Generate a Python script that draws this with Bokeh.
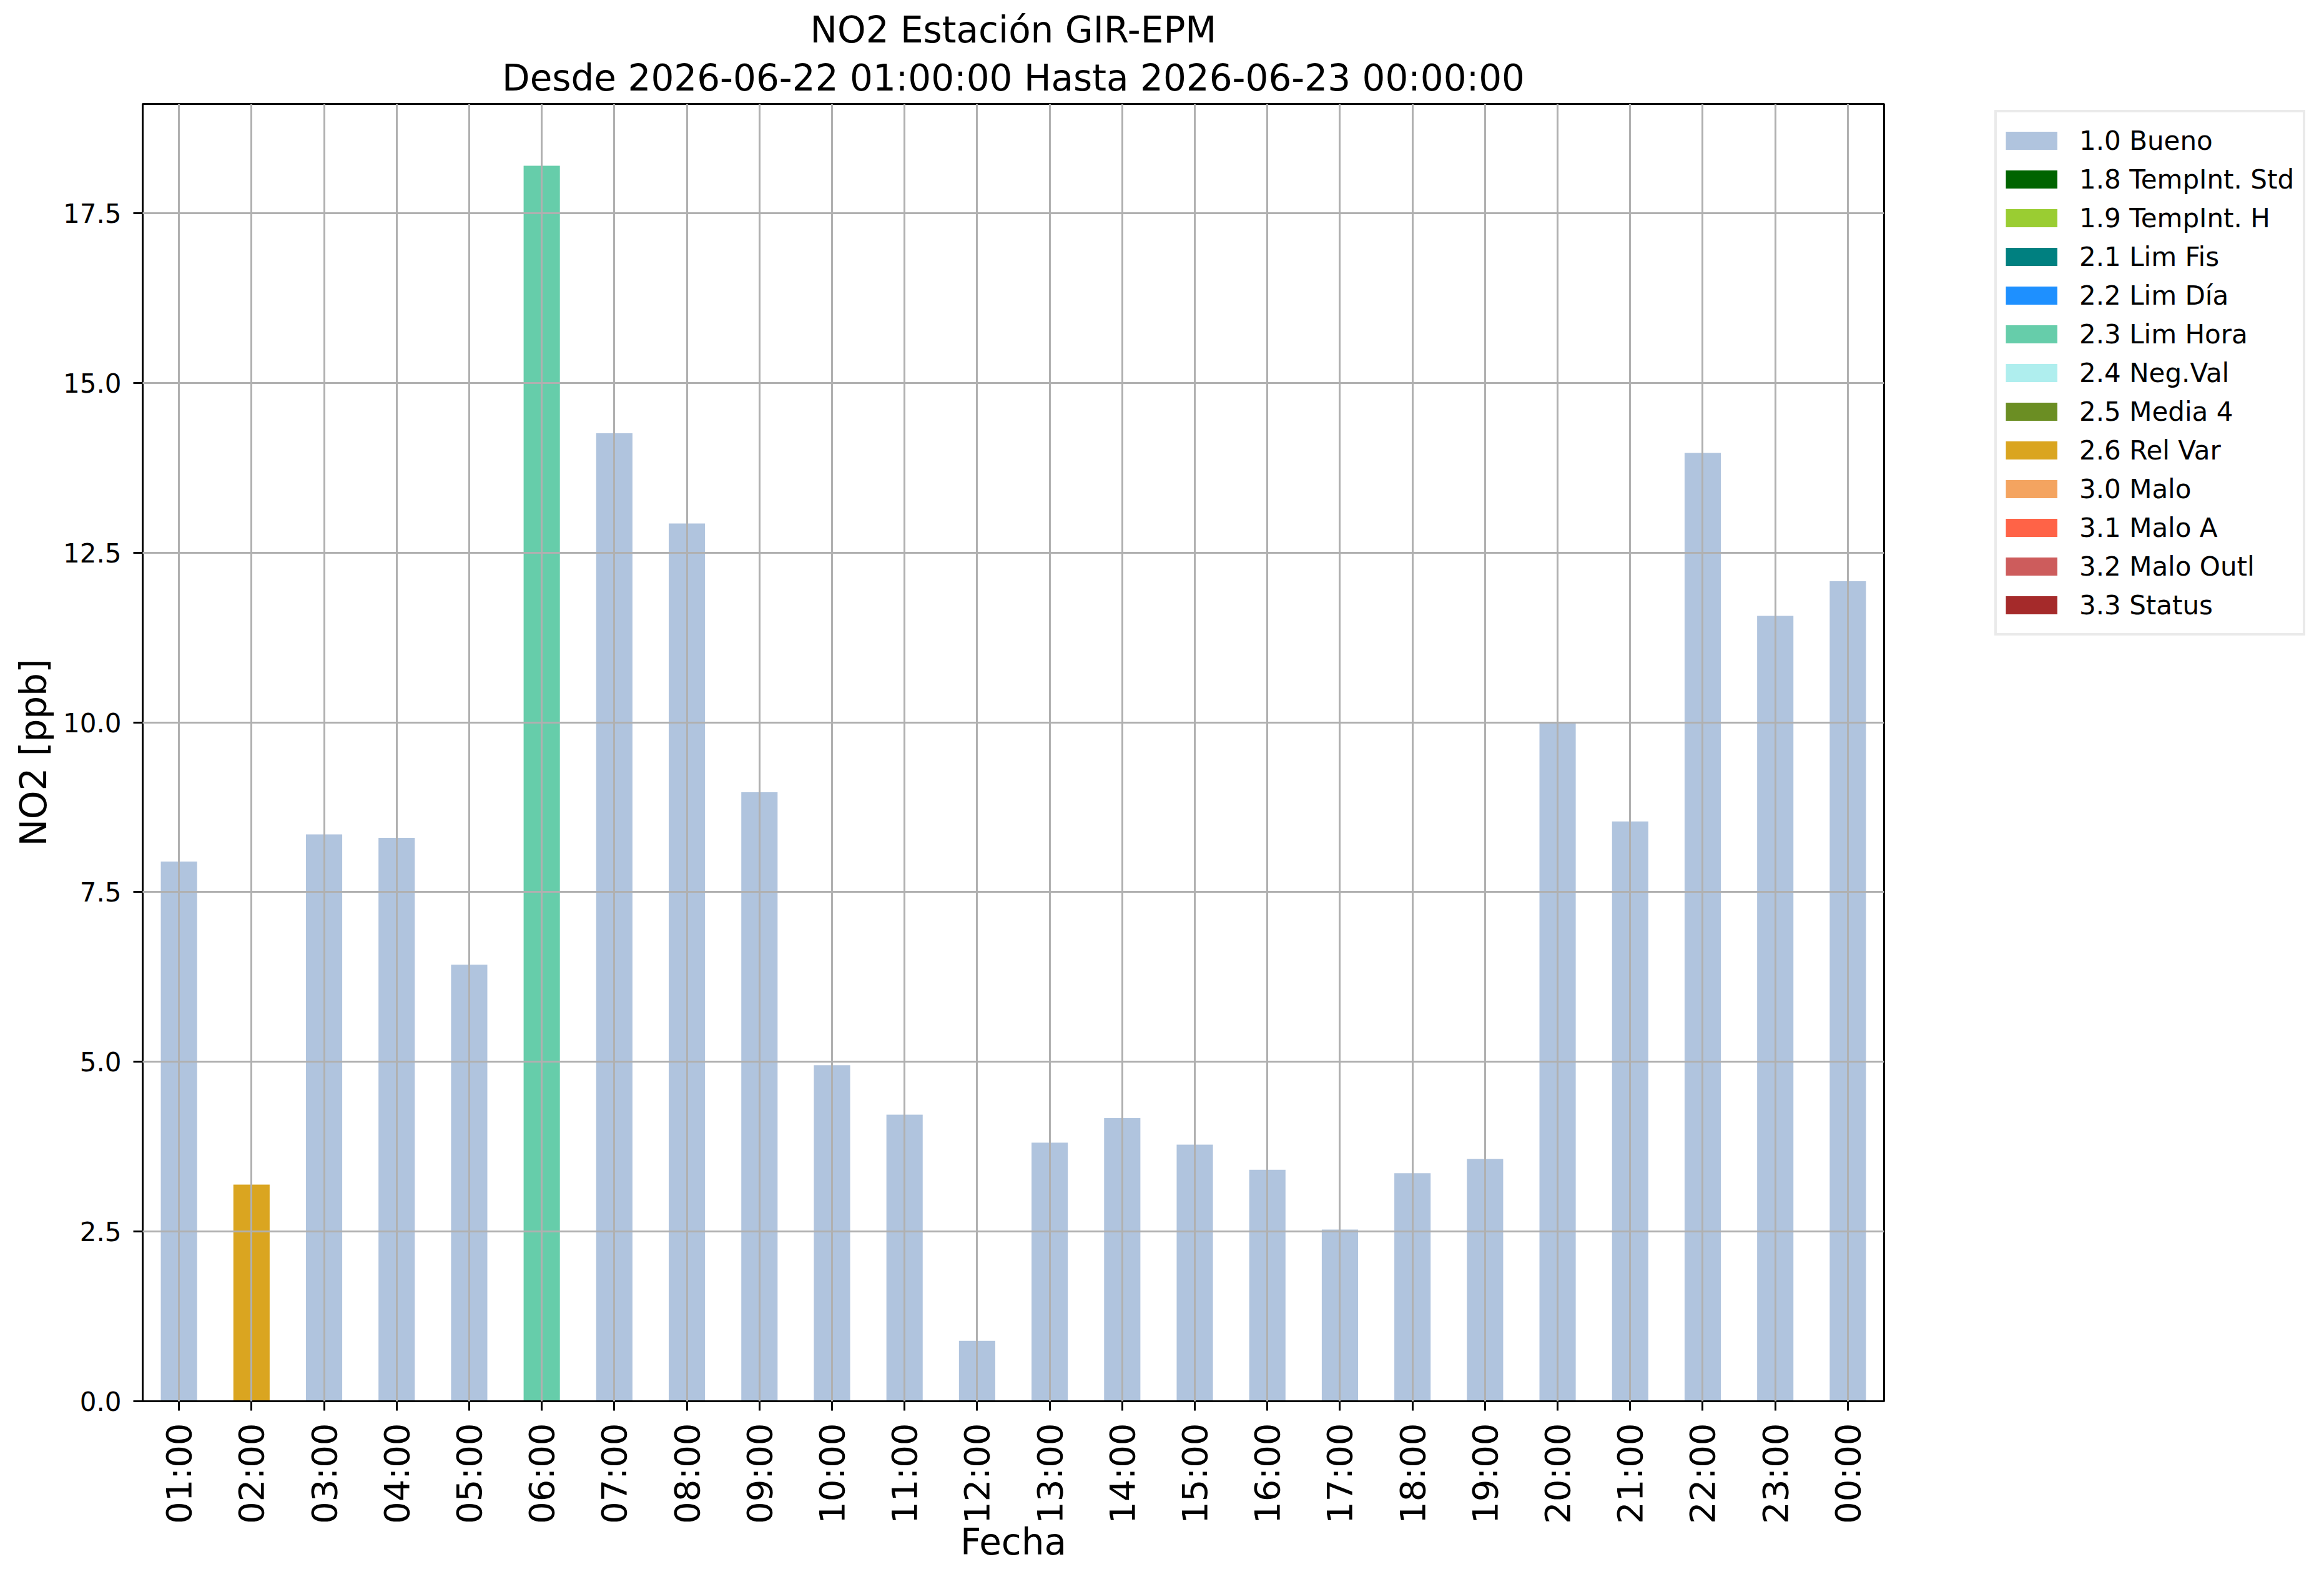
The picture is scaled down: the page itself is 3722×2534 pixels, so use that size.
import math
from bokeh.plotting import figure
from bokeh.layouts import row
from bokeh.models import (ColumnDataSource, FactorRange, Range1d, Legend, LegendItem,
                          FixedTicker, NumeralTickFormatter, Title)
from bokeh.embed import file_html
from bokeh.resources import INLINE

# ---- data ----
hours = ["01:00", "02:00", "03:00", "04:00", "05:00", "06:00", "07:00", "08:00",
         "09:00", "10:00", "11:00", "12:00", "13:00", "14:00", "15:00", "16:00",
         "17:00", "18:00", "19:00", "20:00", "21:00", "22:00", "23:00", "00:00"]
no2 = [7.95, 3.19, 8.35, 8.30, 6.43, 18.20, 14.26, 12.93, 8.97, 4.95, 4.22, 0.89,
       3.81, 4.17, 3.78, 3.41, 2.53, 3.36, 3.57, 10.00, 8.54, 13.97, 11.57, 12.08]
flags = ["1.0 Bueno", "2.6 Rel Var", "1.0 Bueno", "1.0 Bueno", "1.0 Bueno",
         "2.3 Lim Hora", "1.0 Bueno", "1.0 Bueno", "1.0 Bueno", "1.0 Bueno",
         "1.0 Bueno", "1.0 Bueno", "1.0 Bueno", "1.0 Bueno", "1.0 Bueno",
         "1.0 Bueno", "1.0 Bueno", "1.0 Bueno", "1.0 Bueno", "1.0 Bueno",
         "1.0 Bueno", "1.0 Bueno", "1.0 Bueno", "1.0 Bueno"]
flag_labels = ["1.0 Bueno", "1.8 TempInt. Std", "1.9 TempInt. H", "2.1 Lim Fis",
               "2.2 Lim Día", "2.3 Lim Hora", "2.4 Neg.Val", "2.5 Media 4",
               "2.6 Rel Var", "3.0 Malo", "3.1 Malo A", "3.2 Malo Outl", "3.3 Status"]
flag_colors = ["#B0C4DE", "#006400", "#9ACD32", "#008080", "#1E90FF", "#66CDAA",
               "#AFEEEE", "#6B8E23", "#DAA520", "#F4A460", "#FF6347", "#CD5C5C",
               "#A52A2A"]
y_ticks = [0.0, 2.5, 5.0, 7.5, 10.0, 12.5, 15.0, 17.5]
title_line1 = "NO2 Estación GIR-EPM"
title_line2 = "Desde 2026-06-22 01:00:00 Hasta 2026-06-23 00:00:00"

color_of = dict(zip(flag_labels, flag_colors))
source = ColumnDataSource(dict(hour=hours, no2=no2, color=[color_of[f] for f in flags]))

FONT = "DejaVu Sans"
H = 2518
FW, FH = 2789, 2078
TOP, LEFT = 166, 228
BOTTOM = H - TOP - FH

# ---------------- main chart ----------------
p = figure(frame_width=FW, frame_height=FH, output_backend="svg",
           toolbar_location=None,
           x_range=FactorRange(*hours), y_range=Range1d(0, max(no2) * 1.05),
           title=None,
           min_border_left=LEFT, min_border_right=10, min_border_top=TOP,
           min_border_bottom=BOTTOM)
p.background_fill_color = "white"
p.border_fill_color = "white"
p.outline_line_color = "black"
p.outline_line_width = 3

p.vbar(x="hour", top="no2", width=0.5, source=source, fill_color="color",
       line_color=None)

# grid drawn above bars
for g in (p.xgrid, p.ygrid):
    g.grid_line_color = "#b0b0b0"
    g.grid_line_width = 3
    g.level = "overlay"

p.yaxis.ticker = FixedTicker(ticks=y_ticks)
p.yaxis.formatter = NumeralTickFormatter(format="0.0")

for ax in (p.xaxis[0], p.yaxis[0]):
    ax.axis_line_width = 3
    ax.major_tick_line_width = 3
    ax.major_tick_out = 15
    ax.major_tick_in = 0
    ax.minor_tick_line_color = None
    ax.major_label_text_font = FONT
    ax.axis_label_text_font = FONT
    ax.axis_label_text_font_style = "normal"
    ax.axis_label_text_font_size = "58px"
    ax.axis_label_text_color = "black"
    ax.major_label_text_color = "black"

p.xaxis.axis_label = "Fecha"
p.xaxis.major_label_orientation = math.pi / 2
p.xaxis.major_label_text_font_size = "56px"
p.xaxis.major_label_standoff = 20
p.xaxis.axis_label_standoff = -8

p.yaxis.axis_label = "NO2 [ppb]"
p.yaxis.major_label_text_font_size = "42px"
p.yaxis.major_label_standoff = 19
p.yaxis.axis_label_standoff = 10

t2 = Title(text=title_line2, align="center", text_font=FONT, text_font_size="58px",
           text_font_style="normal", text_color="black", standoff=15)
t1 = Title(text=title_line1, align="center", text_font=FONT, text_font_size="58px",
           text_font_style="normal", text_color="black", standoff=0)
p.add_layout(t2, "above")
p.add_layout(t1, "above")

# ---------------- legend panel (right) ----------------
pl = figure(width=3706 - (LEFT + FW + 10), height=H, output_backend="svg",
            toolbar_location=None,
            x_range=Range1d(0, 1), y_range=Range1d(0, 1), title=None,
            x_axis_location=None, y_axis_location=None,
            min_border_left=0, min_border_right=0, min_border_top=TOP,
            min_border_bottom=BOTTOM)
pl.outline_line_color = None
pl.xgrid.visible = False
pl.ygrid.visible = False
pl.background_fill_color = "white"
pl.border_fill_color = "white"

nan = float("nan")
items = []
for lab, col in zip(flag_labels, flag_colors):
    # legend proxy: a line with no drawable points, only its legend swatch shows
    r = pl.line(x=[0, 1], y=[nan, nan], line_color=col, line_width=29)
    items.append(LegendItem(label=lab, renderers=[r]))

# legend top 21px below the frame top, 831px tall, 177px right of the frame
legend = Legend(items=items, location=(167, FH - 21 - 831), margin=0,
                glyph_width=83, glyph_height=62, label_height=62, spacing=0,
                padding=14, label_standoff=35,
                label_text_font=FONT, label_text_font_size="42px",
                label_text_color="black",
                border_line_color="#d6d6d6", border_line_width=4,
                background_fill_color="white", background_fill_alpha=0.8)
pl.add_layout(legend, "center")

open("out.html", "w").write(file_html(row(p, pl), INLINE))
